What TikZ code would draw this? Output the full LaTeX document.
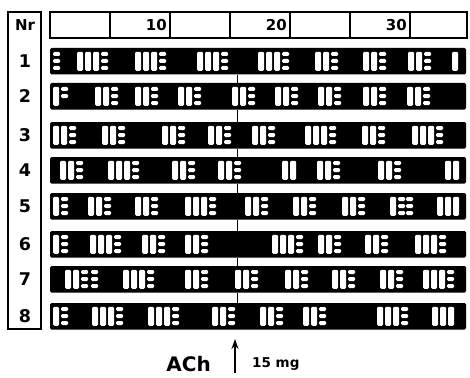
\documentclass[tikz,border=0pt]{standalone}
\usepackage{fontspec}
\setsansfont{DejaVu Sans}
\usepackage{tikz}
\usetikzlibrary{arrows.meta}
\tikzset{frame/.style={draw=black,line width=1.4pt},
  strip/.style={fill=black,rounded corners=1.5pt},
  burst/.style={fill=white,rounded corners=1.4pt},
  numlab/.style={font=\sffamily\bfseries\fontsize{17.5}{17.5}\selectfont,inner sep=0pt},
  scalelab/.style={font=\sffamily\bfseries\fontsize{15}{15}\selectfont,inner sep=0pt,anchor=east}}
% one burst: #1 x, #2 strip top, #3 long spikes, #4 short spikes
\newcommand{\burstgroup}[4]{%
  \ifnum#3>0 \foreach \k in {1,...,#3}
    {\fill[burst] ({#1+(\k-1)*8},{#2+3.8}) rectangle ++(6.2,19);}\fi
  \ifnum#4>0 \foreach \d in {1,...,#4}
    {\fill[burst] ({#1+#3*8},{#2+4+(\d-1)*7}) rectangle ++(7.2,4);}\fi}

\begin{document}
\begin{tikzpicture}[x=1pt,y=-1pt]
 \useasboundingbox (0,0) rectangle (470,377);
 % number column and time scale
 \draw[frame] (8,12) rectangle (41,329);
 \node[scalelab,anchor=center] (nr) at (25,25) {Nr};
 \draw[frame] (50,12) rectangle (467,38);
 \foreach \tx in {110,170,230,290,350,410}
  \draw[line width=1.2pt] (\tx,12) -- (\tx,38);
 \node[scalelab] (t10) at (167,25) {10};
 \node[scalelab] (t20) at (287,25) {20};
 \node[scalelab] (t30) at (407,25) {30};
 % strips
 \foreach \n/\top/\grps in {
   1/48/{53/0/3,77/3/3,135/3/3,197/3/3,258/3/3,315/2/3,363/2/3,408/2/3,452/1/0},
   2/83/{53/1/2,95/2/3,135/2/3,178/2/3,232/2/3,275/2/3,318/2/3,363/2/3,407/2/3},
   3/122/{53/2/3,102/2/3,162/2/3,208/2/3,252/2/3,305/3/3,362/2/3,412/3/3},
   4/157/{60/2/3,108/3/3,172/2/3,218/2/3,282/2/0,317/2/3,378/2/3,445/2/0},
   5/193/{53/1/3,88/2/3,135/2/3,185/3/3,245/2/3,293/2/3,342/2/3,390/1/3,406/0/3,437/3/0},
   6/231/{53/1/3,90/3/3,142/2/3,185/2/3,272/3/3,318/2/3,365/2/3,415/3/3},
   7/266/{65/2/3,91/0/3,123/3/3,185/2/3,235/2/3,285/2/3,332/2/3,380/2/3,423/3/3},
   8/303/{53/1/3,92/3/3,148/3/3,212/2/3,260/2/3,303/2/3,377/3/3,432/3/0}} {
  \fill[strip] (50,\top) rectangle (466,\top+26.5);
  \foreach \gx/\gn/\gm in \grps {\burstgroup{\gx}{\top}{\gn}{\gm}}
  \node[numlab] (r\n) at (25,\top+13.5) {\n};
 }
 % injection mark
 \foreach \ya/\yb in {75/83,110/122,149/157,184/193,220/231,258/266,293/303}
  \draw[line width=0.8pt] (237,\ya) -- (237,\yb);
 \coordinate (achtail) at (235,373);
 \coordinate (achtip) at (235,339);
 \draw[-{Stealth[length=10pt,width=7pt]},line width=2pt] (achtail) -- (achtip);
 \node[font=\sffamily\bfseries\fontsize{20}{20}\selectfont,inner sep=0pt,anchor=east]
  (ach) at (211,364) {ACh};
 \node[font=\sffamily\bfseries\fontsize{13.5}{13.5}\selectfont,inner sep=0pt,anchor=west]
  (dose) at (252,364) {15 mg};
\end{tikzpicture}
\end{document}
